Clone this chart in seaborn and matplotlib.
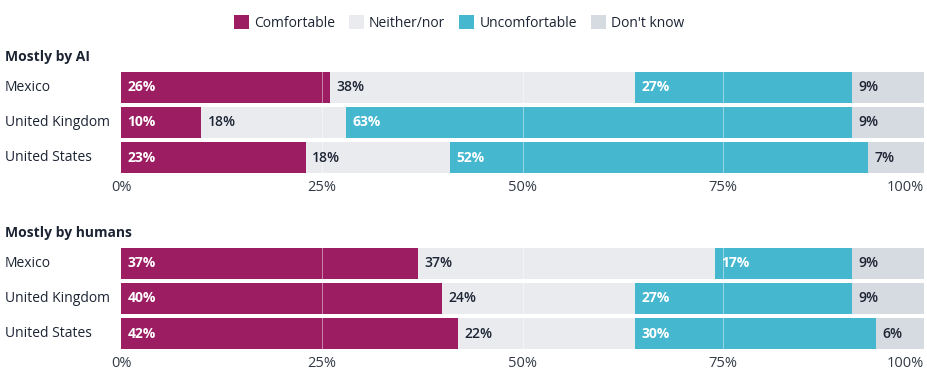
import matplotlib
matplotlib.use("Agg")
import matplotlib.pyplot as plt
import matplotlib.transforms as mtransforms
from matplotlib.patches import Patch
import seaborn as sns
import pandas as pd
import numpy as np

sns.set_theme(style="white")
plt.rcParams['font.family'] = ['Open Sans', 'DejaVu Sans']

countries = ["Mexico", "United Kingdom", "United States"]
categories = ["Comfortable", "Neither/nor", "Uncomfortable", "Don't know"]
panel_titles = ["Mostly by AI", "Mostly by humans"]

ai_comfortable = [26, 10, 23]
ai_neither = [38, 18, 18]
ai_uncomfortable = [27, 63, 52]
ai_dontknow = [9, 9, 7]

hu_comfortable = [37, 40, 42]
hu_neither = [37, 24, 22]
hu_uncomfortable = [17, 27, 30]
hu_dontknow = [9, 9, 6]

ticks = [0, 25, 50, 75, 100]
tick_labels = ["0%", "25%", "50%", "75%", "100%"]

colors = ["#9c1d62", "#e9ebef", "#45b7cf", "#d6dae1"]
label_colors = ["white", "#1c2433", "white", "#1c2433"]
label_weights = ["bold", "semibold", "bold", "semibold"]
dark = "#1c2433"

panels = [
    [ai_comfortable, ai_neither, ai_uncomfortable, ai_dontknow],
    [hu_comfortable, hu_neither, hu_uncomfortable, hu_dontknow],
]

W, H = 927, 377
fig = plt.figure(figsize=(W / 100, H / 100), dpi=100)
fig.patch.set_facecolor("white")

left = 121 / W
right = 924 / W
axes_px = [(71, 174), (247, 350)]  # top, bottom pixel rows
title_y = [57, 233]

for p, (series, (top_px, bot_px)) in enumerate(zip(panels, axes_px)):
    ax = fig.add_axes([left, 1 - bot_px / H, right - left, (bot_px - top_px) / H])
    ax.set_facecolor("white")
    cum = np.cumsum(np.array(series), axis=0)  # 4 x 3
    # overlay cumulative bars, largest first
    for k in range(len(categories) - 1, -1, -1):
        df = pd.DataFrame({"country": countries, "value": cum[k]})
        sns.barplot(data=df, x="value", y="country", orient="h", color=colors[k],
                    saturation=1, width=0.87, ax=ax, linewidth=0)
    # faint white gridlines
    for t in ticks[1:-1]:
        ax.axvline(t, color="white", lw=0.7, alpha=0.45, zorder=5)
    # value labels
    for k in range(len(categories)):
        starts = cum[k] - np.array(series[k])
        for i, c in enumerate(countries):
            ax.annotate(f"{series[k][i]}%", xy=(starts[i], i), xytext=(4.5, 0),
                        textcoords="offset points", ha="left", va="center",
                        fontsize=10, fontweight=label_weights[k],
                        color=label_colors[k], zorder=6)
    ax.set_xlim(0, 100)
    ax.set_ylim(2.47, -0.47)
    ax.set_xlabel("")
    ax.set_ylabel("")
    ax.set_yticks([])
    ax.set_xticks(ticks)
    ax.set_xticklabels(tick_labels, fontsize=10.5, color="#333a46")
    xt = ax.get_xticklabels()
    xt[-1].set_horizontalalignment("right")
    ax.tick_params(axis="x", length=0, pad=4)
    for s in ax.spines.values():
        s.set_visible(False)
    # country labels
    trans = mtransforms.blended_transform_factory(fig.transFigure, ax.transData)
    for i, c in enumerate(countries):
        ax.text(5 / W, i, c, transform=trans, ha="left", va="center",
                fontsize=10, color=dark)
    fig.text(5 / W, 1 - title_y[p] / H, panel_titles[p], ha="left", va="center",
             fontsize=10, fontweight="bold", color=dark)

handles = [Patch(facecolor=colors[k], edgecolor="none") for k in range(4)]
fig.legend(handles, categories, loc="center", bbox_to_anchor=(459 / W, 1 - 23 / H),
           ncol=4, frameon=False, fontsize=10, handlelength=1.1, handleheight=1.1,
           handletextpad=0.35, columnspacing=1.0, labelcolor=dark)

fig.savefig("out.png", dpi=100, facecolor="white")
